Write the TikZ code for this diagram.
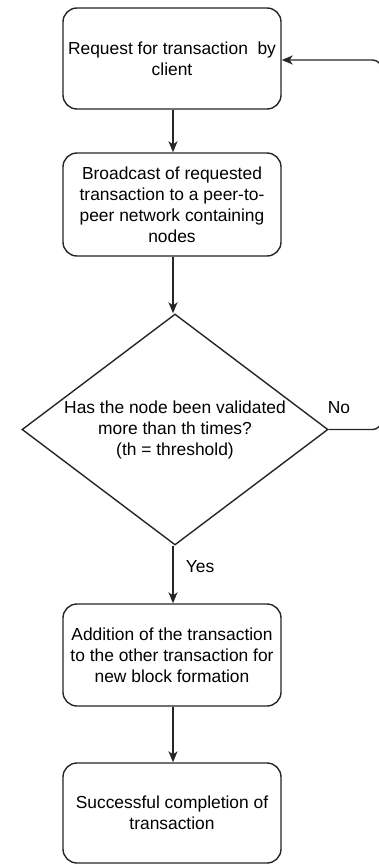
\documentclass[tikz,border=0pt]{standalone}
\usepackage{fontspec}
\setmainfont{Liberation Sans}
\usetikzlibrary{shapes.geometric,arrows.meta}
\begin{document}
\begin{tikzpicture}[x=1pt,y=-1pt,
  every node/.style={font=\fontsize{17.4}{21}\selectfont, text=black},
  stepbox/.style={draw=black!85, line width=1.4pt, fill=white, rounded corners=14pt,
    minimum width=218pt, minimum height=101pt, inner sep=0pt, align=center},
  decision/.style={draw=black!85, line width=1.4pt, fill=white, diamond, aspect=1.325,
    minimum width=306pt, minimum height=231pt, inner sep=0pt, align=center},
  flow/.style={draw=black!85, line width=1.4pt, -{Stealth[length=11pt,width=9pt,inset=3pt]}},
  lbl/.style={inner sep=0pt}]
\useasboundingbox (0,0) rectangle (378,864);

\node[stepbox] (req) at (172,58.5) {Request for transaction\hspace{0.55em}by\\client};
\node[stepbox, minimum height=103pt] (bcast) at (172,204.5)
  {Broadcast of requested\\transaction to a peer-to-\\peer network containing\\nodes};
\node[decision] (check) at (175,429.5)
  {Has the node been validated\\more than th times?\\(th = threshold)};
\node[stepbox, minimum height=102pt] (add) at (172,655)
  {Addition of the transaction\\to the other transaction for\\new block formation};
\node[stepbox, minimum height=100pt] (done) at (172,813)
  {Successful completion of\\transaction};

\draw[flow] (req.south -| 173,0) -- (bcast.north -| 173,0);
\draw[flow] (bcast.south -| 173,0) -- (check.north -| 173,0);
\draw[flow] (check.south -| 173,0) -- (add.north -| 173,0);
\draw[flow] (add.south -| 173,0) -- (done.north -| 173,0);

% return path runs just past the right edge of the page
\coordinate (loopTop) at (381.5,60);
\draw[flow, rounded corners=9pt] (check.east) -- (check.east -| loopTop) -- (loopTop) -- (req.east |- loopTop);

\node[lbl] (no) at (339,408) {No};
\node[lbl] (yes) at (200,567) {Yes};
\end{tikzpicture}
\end{document}
